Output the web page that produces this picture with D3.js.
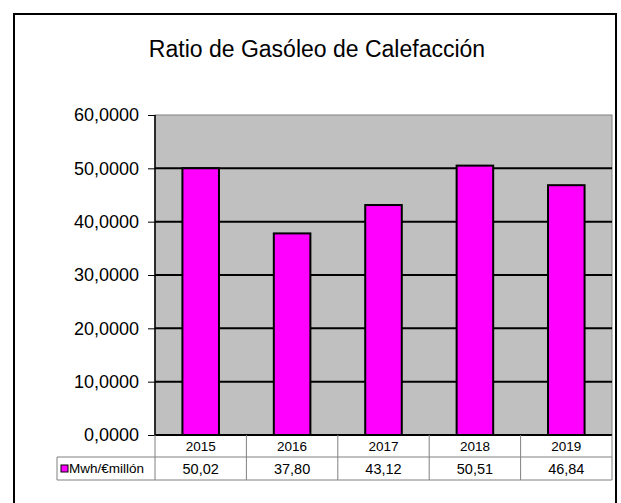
<!DOCTYPE html>
<html>
<head>
<meta charset="utf-8">
<script src="https://cdn.jsdelivr.net/npm/d3@7"></script>
<style>
  body { margin: 0; background: #fff; }
  svg { display: block; font-family: "Liberation Sans", Arial, sans-serif; }
</style>
</head>
<body>
<div id="chart"></div>
<script>
const categories = ["2015", "2016", "2017", "2018", "2019"];
const values = [50.02, 37.80, 43.12, 50.51, 46.84];
const yTicks = [0, 10, 20, 30, 40, 50, 60];
const seriesName = "Mwh/€millón";
const title = "Ratio de Gasóleo de Calefacción";

const W = 621, H = 503;
const plot = { left: 155, right: 612, top: 115, bottom: 435 };
const rowH1 = 22, rowH2 = 23;

const svg = d3.select("#chart").append("svg")
    .attr("width", W)
    .attr("height", H);

svg.append("rect").attr("width", W).attr("height", H).attr("fill", "#fff");

// outer frame
svg.append("rect")
    .attr("x", 14).attr("y", 14)
    .attr("width", 602).attr("height", 520)
    .attr("fill", "none")
    .attr("stroke", "#000")
    .attr("stroke-width", 2);

svg.append("text")
    .attr("x", 317).attr("y", 57)
    .attr("text-anchor", "middle")
    .attr("font-size", 23)
    .text(title);

const x = d3.scaleBand()
    .domain(categories)
    .range([plot.left, plot.right])
    .padding(0);

const y = d3.scaleLinear()
    .domain([0, 60])
    .range([plot.bottom, plot.top]);

// plot area
svg.append("rect")
    .attr("x", plot.left).attr("y", plot.top)
    .attr("width", plot.right - plot.left)
    .attr("height", plot.bottom - plot.top)
    .attr("fill", "#c0c0c0")
    .attr("stroke", "#808080")
    .attr("stroke-width", 1);

// gridlines
svg.selectAll(".grid")
    .data(yTicks.filter(d => d > 0 && d < 60))
    .enter().append("line")
    .attr("class", "grid")
    .attr("x1", plot.left).attr("x2", plot.right)
    .attr("y1", d => y(d)).attr("y2", d => y(d))
    .attr("stroke", "#000")
    .attr("stroke-width", 2);

// bars
const barW = x.bandwidth() * 0.4;
svg.selectAll(".bar")
    .data(values)
    .enter().append("rect")
    .attr("class", "bar")
    .attr("x", (d, i) => x(categories[i]) + (x.bandwidth() - barW) / 2)
    .attr("y", d => y(d))
    .attr("width", barW)
    .attr("height", d => y(0) - y(d))
    .attr("fill", "#ff00ff")
    .attr("stroke", "#000")
    .attr("stroke-width", 2);

// y axis
const fmtTick = d => d3.format(".4f")(d).replace(".", ",");
const yAxis = d3.axisLeft(y)
    .tickValues(yTicks)
    .tickSize(7)
    .tickPadding(9)
    .tickFormat(fmtTick);

const gy = svg.append("g")
    .attr("transform", `translate(${plot.left},0)`)
    .call(yAxis);
gy.select(".domain").attr("stroke", "#000").attr("stroke-width", 1.5).attr("d", `M0,${plot.top}V${plot.bottom}`);
gy.selectAll(".tick line").attr("stroke", "#000");
gy.selectAll(".tick text")
    .attr("font-size", 18)
    .attr("font-family", "Liberation Sans, Arial, sans-serif")
    .attr("fill", "#000");

// baseline
svg.append("line")
    .attr("x1", plot.left).attr("x2", plot.right)
    .attr("y1", y(0)).attr("y2", y(0))
    .attr("stroke", "#000")
    .attr("stroke-width", 2);

// data table
const tTop = plot.bottom, tMid = plot.bottom + rowH1, tBot = tMid + rowH2;
const tbl = svg.append("g").attr("stroke", "#808080").attr("stroke-width", 1).attr("fill", "none");

tbl.append("line").attr("x1", 57).attr("x2", plot.right).attr("y1", tMid).attr("y2", tMid);
tbl.append("line").attr("x1", 57).attr("x2", plot.right).attr("y1", tBot).attr("y2", tBot);
tbl.append("line").attr("x1", 57).attr("x2", 57).attr("y1", tMid).attr("y2", tBot);
tbl.append("line").attr("x1", plot.right).attr("x2", plot.right).attr("y1", tTop).attr("y2", tBot);

tbl.selectAll(".col")
    .data(categories)
    .enter().append("line")
    .attr("x1", d => x(d)).attr("x2", d => x(d))
    .attr("y1", tTop).attr("y2", tBot);

svg.selectAll(".cat")
    .data(categories)
    .enter().append("text")
    .attr("x", d => x(d) + x.bandwidth() / 2)
    .attr("y", tTop + 16)
    .attr("text-anchor", "middle")
    .attr("font-size", 13.5)
    .text(d => d);

svg.selectAll(".val")
    .data(values)
    .enter().append("text")
    .attr("x", (d, i) => x(categories[i]) + x.bandwidth() / 2)
    .attr("y", tMid + 17)
    .attr("text-anchor", "middle")
    .attr("font-size", 14.5)
    .text(d => d3.format(".2f")(d).replace(".", ","));

// legend key
svg.append("rect")
    .attr("x", 61).attr("y", tMid + 8)
    .attr("width", 7).attr("height", 7)
    .attr("fill", "#ff00ff")
    .attr("stroke", "#000")
    .attr("stroke-width", 1);

svg.append("text")
    .attr("x", 69).attr("y", tMid + 16)
    .attr("font-size", 13.5)
    .text(seriesName);
</script>
</body>
</html>
